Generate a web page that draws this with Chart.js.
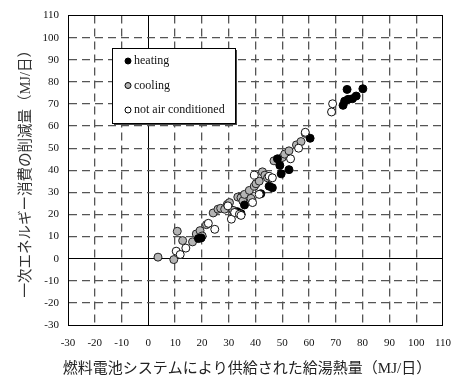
<!DOCTYPE html>
<html>
<head>
<meta charset="utf-8">
<script src="https://cdn.jsdelivr.net/npm/chart.js@4"></script>
<style>
  html, body { margin: 0; padding: 0; background: #fff; }
  #wrap { width: 463px; height: 381px; }
</style>
</head>
<body>
<div id="wrap"><canvas id="grafico" width="463" height="381"></canvas></div>
<script>
// ejes
const xTitulo = "燃料電池システムにより供給された給湯熱量（MJ/日）";
const yTitulo = "一次エネルギー消費の削減量（MJ/日）";
const etiquetas = ["heating", "cooling", "not air conditioned"];

// heating
const heatingX = [18.7, 19.7, 33.2, 34.6, 35.9, 42.0, 45.1, 46.3, 48.2, 49.1, 49.6, 52.5, 60.4, 72.7, 73.3, 74.6, 74.2, 76.2, 77.6, 80.1];
const heatingY = [9.1, 9.4, 21.3, 20.4, 24.3, 29.4, 32.8, 32.1, 45.2, 42.2, 38.4, 40.3, 54.5, 69.4, 71.3, 72.1, 76.6, 72.4, 73.6, 76.9];

// cooling
const coolingX = [3.6, 9.5, 10.8, 12.8, 16.5, 17.9, 19.3, 20.1, 21.7, 24.2, 26.0, 27.0, 28.5, 29.5, 30.3, 31.6, 33.4, 34.6, 35.3, 35.9, 37.7, 38.3, 39.6, 40.2, 41.4, 42.6, 43.5, 44.5, 46.9, 50.0, 50.9, 52.5, 55.3, 57.0, 58.6];
const coolingY = [0.7, -0.4, 12.4, 8.2, 7.6, 11.2, 12.7, 10.3, 15.4, 20.7, 22.4, 22.8, 22.4, 24.6, 25.4, 21.9, 27.9, 27.6, 26.1, 29.1, 30.9, 27.3, 32.8, 33.9, 35.1, 39.3, 37.8, 36.6, 44.3, 45.8, 47.3, 48.8, 51.5, 53.0, 56.7];

// not air conditioned
const noAcX = [10.4, 11.9, 14.0, 22.4, 24.8, 29.7, 31.0, 32.2, 34.0, 34.6, 38.9, 39.6, 41.4, 45.1, 46.3, 53.1, 56.1, 58.6, 68.4, 68.8];
const noAcY = [3.4, 1.9, 4.8, 16.0, 13.3, 23.9, 17.9, 20.9, 20.1, 19.6, 25.4, 37.8, 29.1, 37.3, 36.6, 45.2, 50.0, 57.2, 66.4, 70.1];

const ticksX = [-30, -20, -10, 0, 10, 20, 30, 40, 50, 60, 70, 80, 90, 100, 110];
const ticksY = [-30, -20, -10, 0, 10, 20, 30, 40, 50, 60, 70, 80, 90, 100, 110];

function puntos(xs, ys) {
  return xs.map((x, i) => ({ x: x, y: ys[i] }));
}

const fuenteNum = { family: "'Liberation Serif', serif", size: 11 };
const fuenteTitulo = { family: "'Liberation Serif', 'Noto Sans CJK JP', serif", size: 14.5 };

function estiloLinea(valor) {
  return valor === 0 || valor === 110 || valor === -30;
}

// caja de leyenda y titulo del eje x
const leyendaCaja = {
  id: "leyendaCaja",
  afterDraw(chart) {
    const ctx = chart.ctx;
    const x0 = 112, y0 = 48, w = 123, h = 75;
    ctx.save();
    ctx.fillStyle = "#444";
    ctx.fillRect(x0 + 2, y0 + 2, w, h);
    ctx.fillStyle = "#fff";
    ctx.fillRect(x0, y0, w, h);
    ctx.strokeStyle = "#000";
    ctx.lineWidth = 1;
    ctx.strokeRect(x0 + 0.5, y0 + 0.5, w, h);
    ctx.font = "12px 'Liberation Serif', serif";
    ctx.textBaseline = "middle";
    chart.data.datasets.forEach((ds, i) => {
      const yy = 61 + i * 24.5;
      ctx.beginPath();
      ctx.arc(128, yy, 3, 0, Math.PI * 2);
      ctx.fillStyle = ds.backgroundColor;
      ctx.fill();
      ctx.strokeStyle = "#000";
      ctx.stroke();
      ctx.fillStyle = "#111";
      ctx.fillText(ds.label, 134, yy);
    });

    ctx.font = "15px 'Liberation Serif', 'Noto Sans CJK JP', serif";
    ctx.fillStyle = "#222";
    ctx.textAlign = "center";
    ctx.fillText(xTitulo, 247, 369);
    ctx.restore();
  }
};

const ctx = document.getElementById("grafico").getContext("2d");
const grafico = new Chart(ctx, {
  type: "scatter",
  data: {
    datasets: [
      { label: etiquetas[0], data: puntos(heatingX, heatingY), backgroundColor: "#000", borderColor: "#000", order: 2 },
      { label: etiquetas[1], data: puntos(coolingX, coolingY), backgroundColor: "#b4b4b4", borderColor: "#222", order: 3 },
      { label: etiquetas[2], data: puntos(noAcX, noAcY), backgroundColor: "#fff", borderColor: "#111", order: 1 }
    ]
  },
  options: {
    responsive: false,
    animation: false,
    layout: { padding: { left: 0, top: 13, right: 15, bottom: 0 } },
    elements: { point: { radius: 4, borderWidth: 1, hoverRadius: 4 } },
    plugins: { legend: { display: false }, tooltip: { enabled: false } },
    scales: {
      x: {
        type: "linear",
        min: -30,
        max: 110,
        afterBuildTicks: (s) => { s.ticks = ticksX.map(v => ({ value: v })); },
        afterFit: (s) => { s.height = 56; },
        ticks: { color: "#111", font: fuenteNum, padding: 12, maxRotation: 0 },
        grid: {
          drawTicks: false,
          color: (c) => estiloLinea(c.tick && c.tick.value) ? "#000" : "#555",
          lineWidth: (c) => estiloLinea(c.tick && c.tick.value) ? 1 : 1.3
        },
        border: {
          color: "#000",
          width: 1,
          dash: (c) => estiloLinea(c.tick && c.tick.value) ? [] : [8, 5]
        },
        title: { display: false }
      },
      y: {
        type: "linear",
        min: -30,
        max: 110,
        afterBuildTicks: (s) => { s.ticks = ticksY.map(v => ({ value: v })); },
        afterFit: (s) => { s.width = 68; },
        ticks: { color: "#111", font: fuenteNum, padding: 9 },
        grid: {
          drawTicks: false,
          color: (c) => estiloLinea(c.tick && c.tick.value) ? "#000" : "#555",
          lineWidth: (c) => estiloLinea(c.tick && c.tick.value) ? 1 : 1.3
        },
        border: {
          color: "#000",
          width: 1,
          dash: (c) => estiloLinea(c.tick && c.tick.value) ? [] : [8, 5]
        },
        title: { display: true, text: yTitulo, color: "#333", font: fuenteTitulo, padding: { top: 17, bottom: 0 } }
      }
    }
  },
  plugins: [leyendaCaja]
});
</script>
</body>
</html>
